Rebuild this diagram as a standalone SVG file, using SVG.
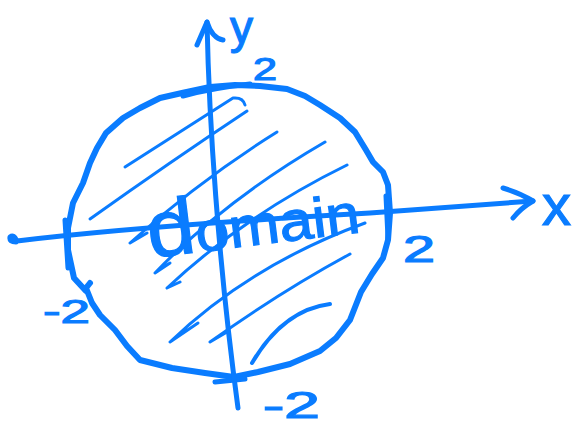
<svg xmlns="http://www.w3.org/2000/svg" width="580" height="427" viewBox="0 0 580 427">
<style>
.s{fill:none;stroke:#0a7cff;stroke-linecap:round;stroke-linejoin:round}
.ax{stroke-width:5}
.c{stroke-width:6}
.h{stroke-width:3}
text{fill:#0a7cff;stroke:#0a7cff;stroke-width:1.2;font-family:"Liberation Sans",Arial,sans-serif}
</style>
<rect width="580" height="427" fill="#ffffff"/>
<g id="domain-disc">
<path class="s c" d="M86,291 L74,278 L68,250 L68,228 L73,203 L83,183 L90,163 L97,148 L106,133 L123,118 L140,108 L160,98 L182,93 L210,87 L235,85 L260,86 L287,89 L305,96 L320,105 L340,118 L355,132 L366,150 L373,162 L383,172 L388,185 L390,213 L388,240 L383,258 L372,274 L361,292 L350,320 L336,338 L320,351 L290,364 L258,372 L234,377 L205,373 L172,368 L140,360 L127,346 L115,330 L100,315 L92,303 L86,288 L90,283"/>
<path class="s ax" d="M183,96 Q212,88 250,84"/>
<path class="s ax" d="M215,382 L245,379"/>
<path class="s ax" d="M386,196 L388,238"/>
</g>
<g id="hatching">
<path class="s h" d="M125,167 L233,98 Q243,97 245,105"/>
<path class="s h" d="M90,219 Q170,162 247,111"/>
<path class="s h" d="M147,233 L130,243 Q200,180 277,132"/>
<path class="s h" d="M170,263 L155,273 Q225,200 325,142"/>
<path class="s h" d="M180,282 L167,288 Q245,215 347,165"/>
<path class="s h" d="M198,323 L170,342 Q250,265 365,223"/>
<path class="s h" d="M227,332 L210,342 Q280,292 350,254"/>
<path class="s" stroke-width="4" d="M252,363 Q283,310 330,304"/>
</g>
<g id="connectors">
<g id="x-axis">
<path class="s ax" d="M16,242 Q9,242 10,237 Q14,234 17,241 Q140,226 370,213 L533,201"/>
<path class="s ax" d="M503,188 Q520,193 533,201 Q521,208 513,218"/>
<path class="s ax" d="M65,220 L68,268"/>
</g>
<g id="y-axis">
<path class="s ax" d="M207,22 C209,120 218,260 238,408"/>
<path class="s ax" d="M197,45 L207,22 Q212,38 223,40"/>
</g>
</g>
<g id="labels">
<text x="230" y="43" font-size="46">y</text>
<text x="542" y="225" font-size="58">x</text>
<text x="253" y="80" font-size="32" textLength="24" lengthAdjust="spacingAndGlyphs">2</text>
<text x="403" y="262" font-size="36" textLength="32" lengthAdjust="spacingAndGlyphs">2</text>
<text x="43" y="323" font-size="34" textLength="47" lengthAdjust="spacingAndGlyphs">-2</text>
<text x="263" y="418" font-size="36" textLength="57" lengthAdjust="spacingAndGlyphs">-2</text>
<text transform="translate(150,258) rotate(-7)" x="0" y="0" font-size="56" textLength="213" lengthAdjust="spacingAndGlyphs"><tspan font-size="80">d</tspan>omain</text>
</g>
</svg>
